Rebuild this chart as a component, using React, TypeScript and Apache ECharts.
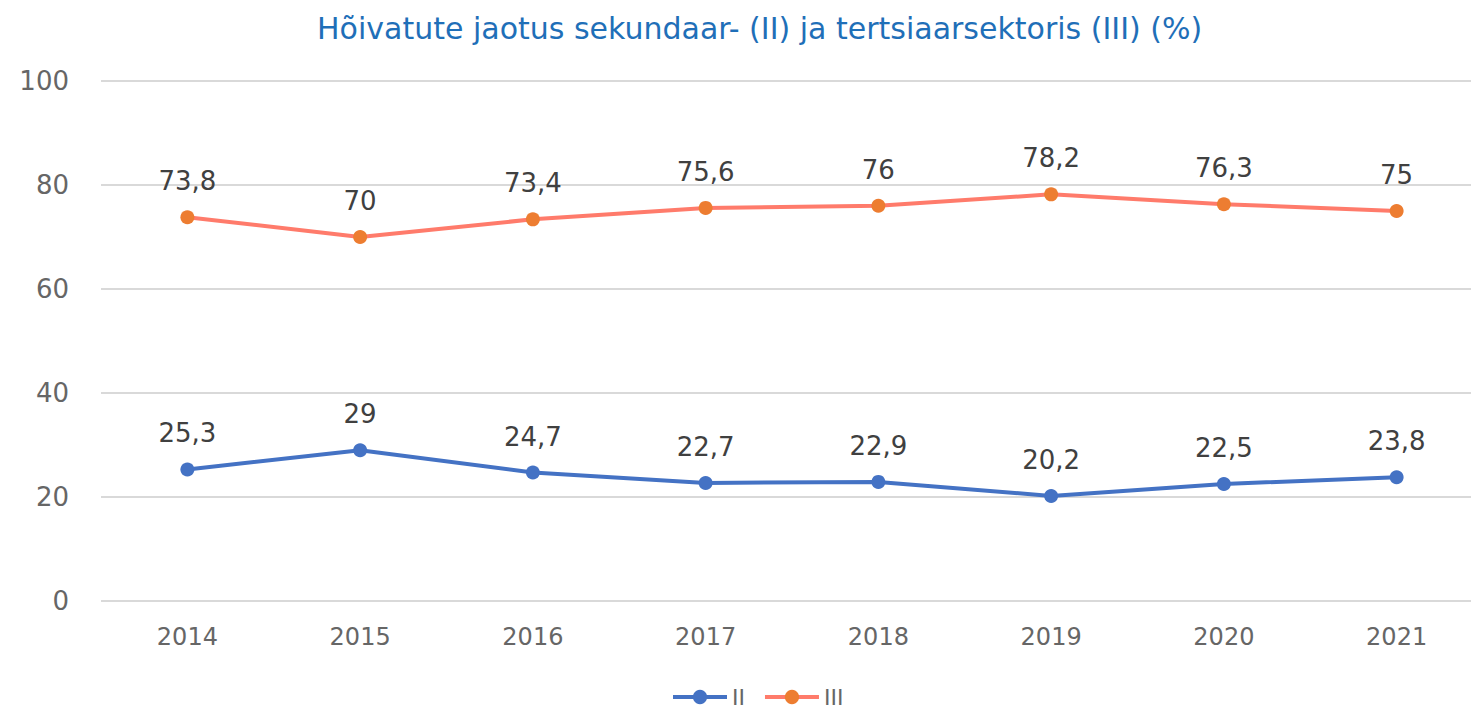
import React, { useEffect, useRef } from "react";
import * as echarts from "echarts";

const years = ["2014", "2015", "2016", "2017", "2018", "2019", "2020", "2021"];
const seriesII = [25.3, 29, 24.7, 22.7, 22.9, 20.2, 22.5, 23.8];
const seriesIII = [73.8, 70, 73.4, 75.6, 76, 78.2, 76.3, 75];
const titleText = "Hõivatute jaotus sekundaar- (II) ja tertsiaarsektoris (III) (%)";
const FONT = "'DejaVu Sans', sans-serif";

export default function App() {
  const ref = useRef<HTMLDivElement>(null);
  useEffect(() => {
    document.body.style.margin = "0";
    const chart = echarts.init(ref.current!, null, { renderer: "svg" });
    const fmt = (p: any) => String(p.value).replace(".", ",");
    chart.setOption({
      animation: false,
      textStyle: { fontFamily: FONT },
      title: {
        text: titleText,
        left: 312,
        top: 8,
        textStyle: { color: "#1F6FB8", fontSize: 30, fontWeight: "normal", fontFamily: FONT },
      },
      legend: {
        top: 681,
        left: 666,
        itemWidth: 54,
        itemHeight: 18,
        itemGap: 18,
        lineStyle: { width: 4 },
        textStyle: { color: "#666666", fontSize: 22, lineHeight: 20, fontFamily: FONT },
        data: ["II", "III"],
      },
      grid: { left: 101, top: 81, right: 0, height: 520, containLabel: false },
      xAxis: {
        type: "category",
        data: years,
        boundaryGap: true,
        axisLine: { show: false },
        axisTick: { show: false },
        axisLabel: { color: "#666666", fontSize: 24, margin: 24, fontFamily: FONT },
      },
      yAxis: {
        type: "value",
        min: 0,
        max: 100,
        interval: 20,
        axisLine: { show: false },
        axisTick: { show: false },
        splitLine: { lineStyle: { color: "#D9D9D9", width: 2 } },
        axisLabel: { color: "#666666", fontSize: 26, margin: 32, fontFamily: FONT },
      },
      series: [
        {
          name: "II",
          type: "line",
          data: seriesII,
          symbol: "circle",
          symbolSize: 14,
          lineStyle: { color: "#4472C4", width: 4 },
          itemStyle: { color: "#4472C4" },
          label: { show: true, position: "top", distance: 16, color: "#404040", fontSize: 26, formatter: fmt, fontFamily: FONT },
        },
        {
          name: "III",
          type: "line",
          data: seriesIII,
          symbol: "circle",
          symbolSize: 14,
          lineStyle: { color: "#FF7B6B", width: 4 },
          itemStyle: { color: "#ED7D31" },
          label: { show: true, position: "top", distance: 16, color: "#404040", fontSize: 26, formatter: fmt, fontFamily: FONT },
        },
      ],
    });
    return () => chart.dispose();
  }, []);
  return (
    <div style={{ width: 1471, height: 709, overflow: "hidden" }}>
      <div ref={ref} style={{ width: 1483, height: 709 }} />
    </div>
  );
}
